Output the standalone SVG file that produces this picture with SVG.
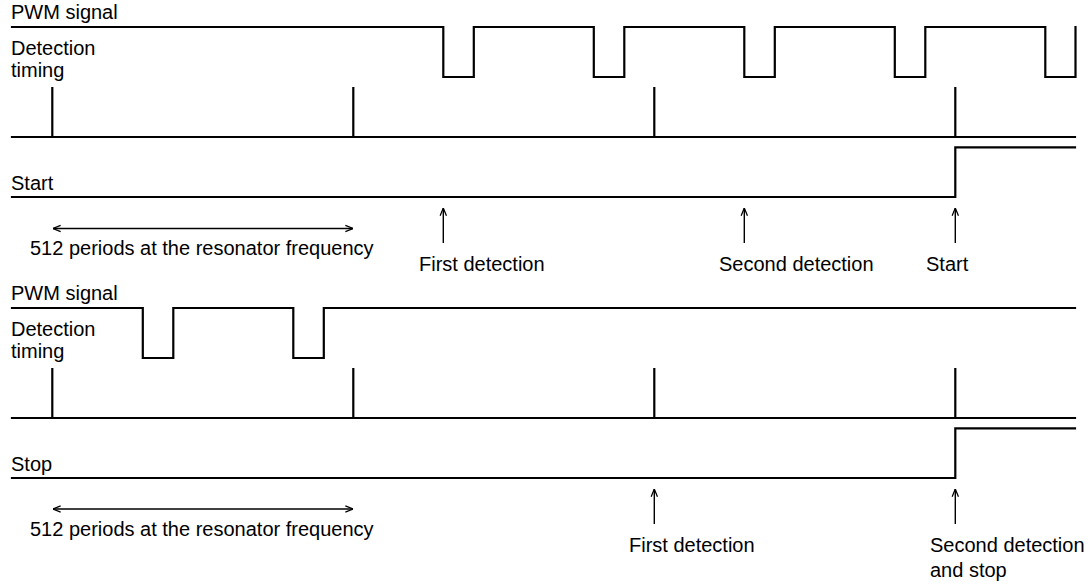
<svg xmlns="http://www.w3.org/2000/svg" width="1092" height="586" viewBox="0 0 1092 586">
<style>
text{font-family:"Liberation Sans",Arial,sans-serif;font-size:20px;fill:#000}
.sig{fill:none;stroke:#000;stroke-width:2.2;stroke-linejoin:miter;stroke-linecap:square}
.arr{fill:none;stroke:#000;stroke-width:1.4}
</style>
<defs>
<marker id="ah" viewBox="0 0 10 10" refX="9.5" refY="5" markerUnits="userSpaceOnUse" markerWidth="9" markerHeight="9" orient="auto-start-reverse">
<path d="M1,1.5 L9.5,5 L1,8.5" fill="none" stroke="#000" stroke-width="1.4"/>
</marker>
</defs>
<rect width="1092" height="586" fill="#fff"/>

<g id="top-start">
<g id="top-pwm">
<text x="11" y="19">PWM signal</text>
<path class="sig" d="M12,27 H443.3 V77 H473.8 V27 H593.8 V77 H624.3 V27 H744.3 V77 H774.8 V27 H894.8 V77 H925.3 V27 H1045.3 V77 H1075.5 V27"/>
</g>
<g id="top-detection">
<text x="11" y="55">Detection</text>
<text x="11" y="77">timing</text>
<path class="sig" d="M12,137 H1075 M52.3,137 V88 M353.3,137 V88 M654.3,137 V88 M955.3,137 V88"/>
</g>
<g id="top-start-signal">
<text x="11" y="190">Start</text>
<path class="sig" d="M12,197 H955.3 V147.3 H1075"/>
</g>
<g id="top-period">
<text x="30" y="255">512 periods at the resonator frequency</text>
</g>
<g id="top-labels">
<text x="419" y="271">First detection</text>
<text x="719" y="271">Second detection</text>
<text x="926" y="271">Start</text>
</g>
</g>

<g id="bottom-stop">
<g id="bottom-pwm">
<text x="11" y="300">PWM signal</text>
<path class="sig" d="M12,308 H142.8 V358 H173.3 V308 H293.3 V358 H323.8 V308 H1075"/>
</g>
<g id="bottom-detection">
<text x="11" y="336">Detection</text>
<text x="11" y="358">timing</text>
<path class="sig" d="M12,418 H1075 M52.3,418 V369 M353.3,418 V369 M654.3,418 V369 M955.3,418 V369"/>
</g>
<g id="bottom-stop-signal">
<text x="11" y="471">Stop</text>
<path class="sig" d="M12,478 H955.3 V428.3 H1075"/>
</g>
<g id="bottom-period">
<text x="30" y="536">512 periods at the resonator frequency</text>
</g>
<g id="bottom-labels">
<text x="629" y="552">First detection</text>
<text x="930" y="552">Second detection</text>
<text x="930" y="577">and stop</text>
</g>
</g>

<g id="connectors">
<line class="arr" x1="53" y1="228.5" x2="353" y2="228.5" marker-start="url(#ah)" marker-end="url(#ah)"/>
<line class="arr" x1="443.3" y1="243" x2="443.3" y2="208" marker-end="url(#ah)"/>
<line class="arr" x1="744.3" y1="243" x2="744.3" y2="208" marker-end="url(#ah)"/>
<line class="arr" x1="955.3" y1="243" x2="955.3" y2="208" marker-end="url(#ah)"/>
<line class="arr" x1="53" y1="509" x2="353" y2="509" marker-start="url(#ah)" marker-end="url(#ah)"/>
<line class="arr" x1="654.3" y1="524" x2="654.3" y2="489" marker-end="url(#ah)"/>
<line class="arr" x1="955.3" y1="524" x2="955.3" y2="489" marker-end="url(#ah)"/>
</g>
</svg>
